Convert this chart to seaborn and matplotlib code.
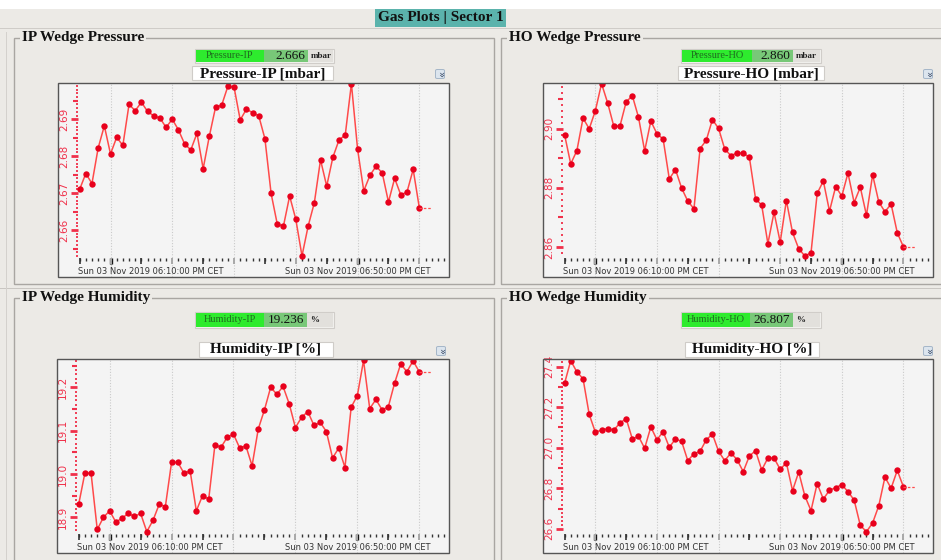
import numpy as np
import pandas as pd
import matplotlib
matplotlib.use("Agg")
import matplotlib.pyplot as plt
import matplotlib.dates as mdates
import matplotlib.ticker as mticker
from matplotlib.patches import Rectangle, FancyBboxPatch
import seaborn as sns

sns.set_theme(style="white")
plt.rcParams["font.family"] = ["DejaVu Sans"]

# ---------------------------------------------------------------- data
times = pd.date_range("2019-11-03 18:05", periods=56, freq="1min")

pressure_ip = [
    2.6710, 2.6753, 2.6726, 2.6822, 2.6882, 2.6806, 2.6851, 2.6829, 2.6940, 2.6923,
    2.6946, 2.6921, 2.6909, 2.6903, 2.6878, 2.6900, 2.6871, 2.6833, 2.6817, 2.6862,
    2.6766, 2.6854, 2.6932, 2.6938, 2.6989, 2.6987, 2.6898, 2.6927, 2.6918, 2.6909,
    2.6847, 2.6699, 2.6616, 2.6611, 2.6692, 2.6629, 2.6530, 2.6611, 2.6674, 2.6790,
    2.6719, 2.6797, 2.6844, 2.6857, 2.6996, 2.6819, 2.6706, 2.6748, 2.6773, 2.6754,
    2.6676, 2.6740, 2.6695, 2.6703, 2.6764, 2.6660,
]
pressure_ho = [
    2.8980, 2.8881, 2.8926, 2.9036, 2.9000, 2.9061, 2.9153, 2.9087, 2.9008, 2.9010,
    2.9091, 2.9112, 2.9039, 2.8925, 2.9026, 2.8983, 2.8965, 2.8830, 2.8862, 2.8799,
    2.8755, 2.8729, 2.8933, 2.8961, 2.9031, 2.9001, 2.8931, 2.8909, 2.8918, 2.8918,
    2.8903, 2.8763, 2.8741, 2.8611, 2.8717, 2.8616, 2.8757, 2.8649, 2.8594, 2.8569,
    2.8580, 2.8781, 2.8823, 2.8721, 2.8804, 2.8772, 2.8850, 2.8750, 2.8802, 2.8707,
    2.8844, 2.8752, 2.8719, 2.8745, 2.8648, 2.8600,
]
humidity_ip = [
    18.930, 19.002, 19.002, 18.872, 18.900, 18.915, 18.889, 18.898, 18.909, 18.902,
    18.909, 18.867, 18.893, 18.930, 18.925, 19.027, 19.027, 19.002, 19.007, 18.915,
    18.950, 18.942, 19.067, 19.062, 19.085, 19.092, 19.060, 19.065, 19.019, 19.104,
    19.148, 19.200, 19.184, 19.202, 19.162, 19.107, 19.131, 19.144, 19.112, 19.119,
    19.098, 19.037, 19.060, 19.015, 19.154, 19.181, 19.262, 19.151, 19.172, 19.148,
    19.155, 19.209, 19.254, 19.236, 19.261, 19.236,
]
humidity_ho = [
    27.317, 27.429, 27.373, 27.340, 27.164, 27.076, 27.087, 27.094, 27.087, 27.122,
    27.143, 27.043, 27.056, 26.997, 27.102, 27.039, 27.079, 27.002, 27.043, 27.031,
    26.936, 26.970, 26.982, 27.039, 27.067, 26.982, 26.936, 26.974, 26.941, 26.882,
    26.959, 26.985, 26.890, 26.949, 26.949, 26.893, 26.926, 26.788, 26.880, 26.762,
    26.690, 26.823, 26.747, 26.790, 26.803, 26.818, 26.783, 26.742, 26.617, 26.586,
    26.629, 26.714, 26.855, 26.800, 26.888, 26.807,
]

panel_titles = ["IP Wedge Pressure", "HO Wedge Pressure", "IP Wedge Humidity", "HO Wedge Humidity"]
channel_names = ["Pressure-IP", "Pressure-HO", "Humidity-IP", "Humidity-HO"]
channel_units = ["mbar", "mbar", "%", "%"]
series = [pressure_ip, pressure_ho, humidity_ip, humidity_ho]
y_limits = [(2.6473, 2.6998), (2.8498, 2.9155), (18.8177, 19.2654), (26.481, 27.437)]
label_steps = [0.01, 0.02, 0.1, 0.2]
fine_steps = [0.001, 0.002, 0.01, 0.02]
label_fmts = ["{:.2f}", "{:.2f}", "{:.1f}", "{:.1f}"]
banner_title = "Gas Plots | Sector 1"

# ---------------------------------------------------------------- layout (pixels)
W, H = 941, 560
BG = "#ECEAE6"
SERIF = ["Liberation Serif", "DejaVu Serif"]
LINE_RED = "#FF4A4A"
MARK_RED = "#E8001C"
TICK_RED = "#F0304A"

layout = [
    dict(box=(14, 38, 494, 284), tx=22, ax=(58, 83, 449, 277),
         wid=(196, 50, 264, 308, 333, 62), ttl=(192, 66, 333, 80), icon=(440, 74)),
    dict(box=(501, 38, 946, 284), tx=509, ax=(543, 83, 933, 277),
         wid=(682, 50, 752, 793, 820, 62), ttl=(678, 66, 824, 80), icon=(928, 74)),
    dict(box=(14, 298, 494, 566), tx=22, ax=(57, 359, 449, 553),
         wid=(196, 313, 264, 307, 333, 327), ttl=(199, 342, 333, 357), icon=(441, 351)),
    dict(box=(501, 298, 946, 566), tx=509, ax=(543, 359, 933, 553),
         wid=(682, 313, 750, 793, 820, 327), ttl=(685, 342, 819, 357), icon=(928, 351)),
]

fig = plt.figure(figsize=(W / 100, H / 100), dpi=100, facecolor=BG)


def fx(x):
    return x / W


def fy(y):
    return 1 - y / H


def add_rect(x0, y0, x1, y1, **kw):
    r = Rectangle((fx(x0), fy(y1)), (x1 - x0) / W, (y1 - y0) / H,
                  transform=fig.transFigure, **kw)
    fig.add_artist(r)
    return r


def add_text(x, y, s, **kw):
    return fig.text(fx(x), fy(y), s, **kw)


# window strip and banner
add_rect(0, 0, W, 9, facecolor="white", edgecolor="none")
add_rect(0, 28, W, 29, facecolor="#CFCCC8", edgecolor="none")
add_rect(375, 9, 506, 27, facecolor="#5BB3AC", edgecolor="none")
add_text(440.5, 18, banner_title, ha="center", va="center", fontsize=11,
         fontweight="bold", family=SERIF, color="#111111")
add_rect(0, 288, W, 289, facecolor="#C9C6C2", edgecolor="none")
add_rect(6, 32, 7, 560, facecolor="#D4D1CD", edgecolor="none")


def extra_ticks(ax, axis, loc, ticks, length, width, color):
    if axis == "x":
        sec = ax.secondary_xaxis(loc)
        sec.set_alignment("bottom")
        sec.set_ticks(ticks)
        sec.tick_params(axis="x", direction="out", length=length, width=width,
                        color=color, bottom=True, top=False,
                        labelbottom=False, labeltop=False)
    else:
        sec = ax.secondary_yaxis(loc)
        sec.set_alignment("left")
        sec.set_ticks(ticks)
        sec.tick_params(axis="y", direction="out", length=length, width=width,
                        color=color, left=True, right=False,
                        labelleft=False, labelright=False)
    for s in sec.spines.values():
        s.set_visible(False)
    return sec


def stamp(t):
    return t.strftime("%a %d %b %Y %I:%M:%S %p") + " CET"


YSPINE = 0.051
XSPINE = 0.099

ten_min = mdates.date2num(pd.date_range("2019-11-03 18:10", "2019-11-03 19:00", freq="10min"))
one_min = mdates.date2num(pd.date_range("2019-11-03 18:05", "2019-11-03 19:04", freq="1min"))
five_min = mdates.date2num(pd.date_range("2019-11-03 18:05", "2019-11-03 18:55", freq="10min"))
labelled = pd.to_datetime(["2019-11-03 18:10", "2019-11-03 18:50"])

for i in range(4):
    lay = layout[i]
    values = series[i]

    # group frame with its caption
    x0, y0, x1, y1 = lay["box"]
    add_rect(x0, y0, x1, y1, facecolor="none", edgecolor="#A9A6A2", linewidth=1.0)
    add_text(lay["tx"], y0, panel_titles[i], ha="left", va="center", fontsize=11,
             fontweight="bold", family=SERIF, color="#111111",
             bbox=dict(facecolor=BG, edgecolor="none", pad=1.5))

    # live value readout
    gx0, gy0, gx1, vx1, ux1, gy1 = lay["wid"]
    add_rect(gx0 - 1, gy0 - 1, ux1 + 1, gy1 + 1, facecolor="#F2F1EF", edgecolor="#D0CDC9", linewidth=0.8)
    add_rect(gx0, gy0, gx1, gy1, facecolor="#2EEB2E", edgecolor="none")
    add_rect(gx1, gy0, vx1, gy1, facecolor="#78C878", edgecolor="none")
    add_rect(vx1, gy0, ux1, gy1, facecolor="#E2E0DC", edgecolor="none")
    gym = (gy0 + gy1) / 2
    add_text((gx0 + gx1) / 2, gym, channel_names[i], ha="center", va="center",
             fontsize=7.5, family=SERIF, color="#1F6A1F")
    add_text(vx1 - 3, gym, f"{values[-1]:.3f}", ha="right", va="center",
             fontsize=9.5, family=SERIF, color="#111111")
    add_text(vx1 + 3, gym, channel_units[i], ha="left", va="center",
             fontsize=6.5, fontweight="bold", family=SERIF, color="#222222")

    # chart caption
    tx0, ty0, tx1, ty1 = lay["ttl"]
    add_rect(tx0, ty0, tx1, ty1, facecolor="white", edgecolor="#CFCCC8", linewidth=0.8)
    add_text((tx0 + tx1) / 2, (ty0 + ty1) / 2 + 0.5, f"{channel_names[i]} [{channel_units[i]}]",
             ha="center", va="center", fontsize=11, fontweight="bold",
             family=SERIF, color="#111111")

    # menu button
    ix, iy = lay["icon"]
    fig.add_artist(FancyBboxPatch((fx(ix - 4.5), fy(iy + 4.5)), 9 / W, 9 / H,
                                  boxstyle="round,pad=0,rounding_size=0.002",
                                  transform=fig.transFigure, facecolor="#DCE5EE",
                                  edgecolor="#A5B6C8", linewidth=0.7))
    add_text(ix, iy, "\u00bb", ha="center", va="center", fontsize=7,
             rotation=-90, color="#3A4A66")

    # ---------------------------------------------------------- chart
    ax0, ay0, ax1, ay1 = lay["ax"]
    ax = fig.add_axes([fx(ax0), fy(ay1), (ax1 - ax0) / W, (ay1 - ay0) / H])
    ax.set_facecolor("#F4F4F4")

    df = pd.DataFrame({"time": times, "value": values})
    sns.lineplot(data=df, x="time", y="value", ax=ax, color=LINE_RED,
                 linewidth=1.1, marker="o", markersize=4.6,
                 markerfacecolor=MARK_RED, markeredgewidth=0)
    hold_end = times[-1] + pd.Timedelta(minutes=2)
    ax.plot([times[-1], hold_end], [values[-1], values[-1]],
            color=LINE_RED, linewidth=0.9, linestyle=(0, (2, 1.5)))

    lo, hi = y_limits[i]
    ax.set_ylim(lo, hi)
    t_lo = times[0] - pd.Timedelta(minutes=3.5)
    t_hi = times[-1] + pd.Timedelta(minutes=4.8)
    ax.set_xlim(t_lo, t_hi)
    ax.set_xlabel("")
    ax.set_ylabel("")

    # axes drawn inside the plotting area
    for s in ax.spines.values():
        s.set_visible(False)
    ax.spines["left"].set_position(("axes", YSPINE))
    ax.spines["bottom"].set_position(("axes", XSPINE))
    ax.add_patch(Rectangle((0, 0), 1, 1, transform=ax.transAxes, fill=False,
                           edgecolor="#555555", linewidth=1.0, clip_on=False, zorder=5))

    # y ticks
    step = label_steps[i]
    fine = fine_steps[i]
    y_axis_floor = lo + XSPINE * (hi - lo) + fine * 0.5
    k0 = int(np.ceil(y_axis_floor / fine))
    k1 = int(np.floor(hi / fine))
    fine_ticks = np.round(np.arange(k0, k1 + 1) * fine, 6)
    m0 = int(np.ceil(y_axis_floor / step))
    m1 = int(np.floor(hi / step))
    major_ticks = np.round(np.arange(m0, m1 + 1) * step, 6)
    h0 = int(np.ceil(y_axis_floor / (step / 2)))
    h1 = int(np.floor(hi / (step / 2)))
    half_ticks = np.round(np.arange(h0, h1 + 1) * step / 2, 6)
    half_ticks = [v for v in half_ticks if np.min(np.abs(major_ticks - v)) > step / 10]

    fmt = label_fmts[i]
    ax.yaxis.set_major_locator(mticker.FixedLocator(major_ticks))
    ax.yaxis.set_major_formatter(mticker.FuncFormatter(lambda v, p, f=fmt: f.format(v)))
    ax.yaxis.set_minor_locator(mticker.FixedLocator(fine_ticks))
    ax.tick_params(axis="y", which="major", direction="out", length=5.0, width=2.0,
                   color=TICK_RED, labelcolor=TICK_RED, labelsize=7.5, pad=1.5,
                   labelrotation=90, left=True, right=False)
    ax.tick_params(axis="y", which="minor", direction="out", length=1.8, width=1.3,
                   color=TICK_RED, left=True, right=False)
    for lbl in ax.get_yticklabels():
        lbl.set_verticalalignment("center")
    extra_ticks(ax, "y", YSPINE, half_ticks, 3.5, 1.5, TICK_RED)

    # time ticks
    ax.xaxis.set_major_locator(mticker.FixedLocator(ten_min))
    ax.xaxis.set_minor_locator(mticker.FixedLocator(one_min))
    ax.tick_params(axis="x", which="major", direction="out", length=4.5, width=1.4,
                   color="#A8A8A8", bottom=True, top=False, labelbottom=False)
    ax.tick_params(axis="x", which="minor", direction="out", length=2.2, width=1.0,
                   color="#333333", bottom=True, top=False)
    ax.grid(True, axis="x", which="major", color="#CACACA", linestyle=(0, (1, 1.5)),
            linewidth=0.8)
    ax.grid(False, axis="y")
    extra_ticks(ax, "x", XSPINE, five_min, 4.5, 1.1, "#222222")
    extra_ticks(ax, "x", XSPINE, mdates.date2num(labelled), 4.5, 2.4, "#111111")

    # date captions under the time axis
    ax.text(YSPINE, 0.028, stamp(labelled[0]), transform=ax.transAxes,
            ha="left", va="center", fontsize=6, color="#333333")
    ax.text(mdates.date2num(labelled[1]), 0.028, stamp(labelled[1]),
            transform=ax.get_xaxis_transform(), ha="center", va="center",
            fontsize=6, color="#333333")

fig.savefig("out.png", dpi=100, facecolor=fig.get_facecolor())
